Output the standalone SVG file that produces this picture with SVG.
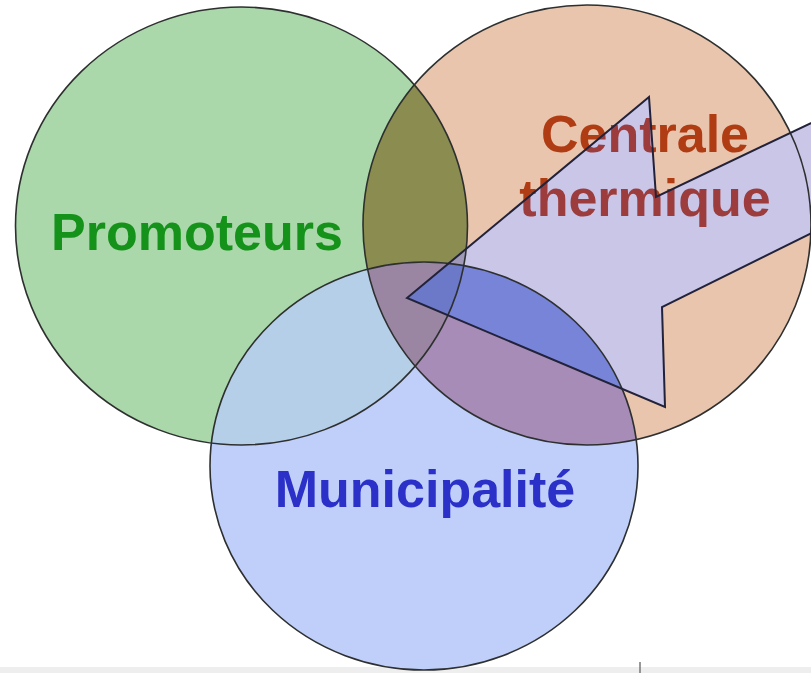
<svg xmlns="http://www.w3.org/2000/svg" width="811" height="673" viewBox="0 0 811 673">
<style>
.lbl{font-family:"Liberation Sans",Arial,sans-serif;font-weight:bold;font-size:52px;text-anchor:middle}
.ol{fill:none;stroke:#2e3030;stroke-width:1.6}
.ar{fill:none;stroke:#22223a;stroke-width:2;stroke-linejoin:miter}
</style>
<defs>
<ellipse id="eG" cx="241.5" cy="226" rx="226" ry="219"/>
<ellipse id="eO" cx="587" cy="225" rx="224" ry="220"/>
<ellipse id="eB" cx="424" cy="466" rx="214" ry="204"/>
<polygon id="pA" points="407,298 649,97 656,197 830,114 830,224 662,307 665,407"/>
<clipPath id="cG"><use href="#eG"/></clipPath>
<clipPath id="cO"><use href="#eO"/></clipPath>
<clipPath id="cB"><use href="#eB"/></clipPath>
<clipPath id="cA"><use href="#pA"/></clipPath>
</defs>
<rect width="811" height="673" fill="#ffffff"/>
<rect x="0" y="667" width="811" height="6" fill="#eeeeee"/>
<line x1="640" y1="662" x2="640" y2="673" stroke="#777" stroke-width="1.5"/>
<g id="regions">
<use href="#eG" fill="#aad8aa"/>
<use href="#eO" fill="#e9c5ad"/>
<use href="#eB" fill="#bfcffa"/>
<g clip-path="url(#cO)"><use href="#eG" fill="#8a8c50"/></g>
<g clip-path="url(#cB)"><use href="#eG" fill="#b6cfe8"/></g>
<g clip-path="url(#cB)"><use href="#eO" fill="#a68cb6"/></g>
<g clip-path="url(#cB)"><g clip-path="url(#cO)"><use href="#eG" fill="#9a86a2"/></g></g>
</g>
<g id="centrale">
<text class="lbl" fill="#b03c14"><tspan x="645" y="152">Centrale</tspan><tspan x="645" y="216">thermique</tspan></text>
</g>
<g id="arrow">
<use href="#pA" fill="#c9c6e8"/>
<g clip-path="url(#cA)"><use href="#eG" fill="#a09ab8"/></g>
<g clip-path="url(#cA)"><g clip-path="url(#cB)"><use href="#eO" fill="#7884d8"/></g></g>
<g clip-path="url(#cA)"><g clip-path="url(#cB)"><g clip-path="url(#cG)"><rect x="350" y="250" width="150" height="100" fill="#6c78c8"/></g></g></g>
<g clip-path="url(#cA)"><text class="lbl" fill="#9c3c3c"><tspan x="645" y="152">Centrale</tspan><tspan x="645" y="216">thermique</tspan></text></g>
</g>
<g id="outlines">
<use href="#eG" class="ol"/>
<use href="#eO" class="ol"/>
<use href="#eB" class="ol"/>
<use href="#pA" class="ar"/>
</g>
<g id="promoteurs">
<text class="lbl" x="197" y="250" fill="#14921a">Promoteurs</text>
</g>
<g id="municipalite">
<text class="lbl" x="425" y="507" fill="#2a30c8">Municipalité</text>
</g>
</svg>
